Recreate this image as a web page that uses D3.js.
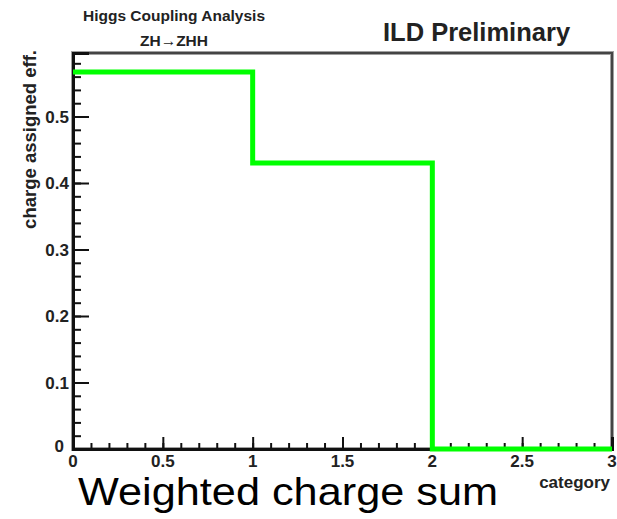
<!DOCTYPE html>
<html lang="en">
<head>
<meta charset="utf-8">
<title>Weighted charge sum</title>
<script src="https://cdnjs.cloudflare.com/ajax/libs/d3/7.8.5/d3.min.js"></script>
<style>
  body { margin: 0; background: #fff; }
  .root { font-family: "Liberation Sans", Arial, sans-serif; font-weight: bold; fill: #222; }
</style>
</head>
<body>
<svg id="plot" width="617" height="519"></svg>
<script>
// bin edges and efficiency per category
var binEdges = [0, 1, 2, 3];
var binValues = [0.567, 0.430, 0];
var xMajorTicks = [0, 0.5, 1, 1.5, 2, 2.5, 3];
var yMajorTicks = [0, 0.1, 0.2, 0.3, 0.4, 0.5];

(function() {
var frameL = 73, frameR = 612, frameT = 53, frameB = 449;

var svg = d3.select("#plot");

var x = d3.scaleLinear().domain([0, 3]).range([frameL, frameR]);
var y = d3.scaleLinear().domain([0, 0.5955]).range([frameB, frameT]);

// frame
svg.append("rect")
  .attr("x", frameL).attr("y", frameT)
  .attr("width", frameR - frameL).attr("height", frameB - frameT)
  .attr("fill", "none")
  .attr("stroke", "#a0a0a0")
  .attr("stroke-width", 4);
svg.append("rect")
  .attr("x", frameL).attr("y", frameT)
  .attr("width", frameR - frameL).attr("height", frameB - frameT)
  .attr("fill", "none")
  .attr("stroke", "#444")
  .attr("stroke-width", 2);

// histogram as a step line
var pts = binEdges.map(function(e, i) {
  return [e, i < binValues.length ? binValues[i] : binValues[binValues.length - 1]];
});
var step = d3.line()
  .x(function(d) { return x(d[0]); })
  .y(function(d) { return y(d[1]); })
  .curve(d3.curveStepAfter);

// axes: ticks point inward like ROOT
function axisGroup(axis, tr) {
  var g = svg.append("g").attr("transform", tr).call(axis);
  g.selectAll("text").remove();
  return g;
}
axisGroup(d3.axisTop(x).tickValues(d3.range(0, 3.001, 0.1)).tickSize(6), "translate(0," + frameB + ")");
axisGroup(d3.axisTop(x).tickValues(xMajorTicks).tickSize(12), "translate(0," + frameB + ")");
axisGroup(d3.axisRight(y).tickValues(d3.range(0, 0.581, 0.02)).tickSize(8), "translate(" + frameL + ",0)");
axisGroup(d3.axisRight(y).tickValues(yMajorTicks).tickSize(16), "translate(" + frameL + ",0)");

svg.selectAll(".domain").attr("stroke", "#111").attr("stroke-width", 3);
svg.selectAll(".tick line").attr("stroke", "#111").attr("stroke-width", 2);

svg.append("path")
  .datum(pts)
  .attr("d", step)
  .attr("fill", "none")
  .attr("stroke", "#00ff00")
  .attr("stroke-width", 5);

// tick labels
svg.selectAll(".xlab").data(xMajorTicks).enter().append("text")
  .attr("class", "root xlab")
  .attr("x", function(d) { return x(d); })
  .attr("y", frameB + 18)
  .attr("text-anchor", "middle")
  .style("font-size", "17px")
  .text(function(d) { return d3.format("")(d); });

svg.selectAll(".ylab").data(yMajorTicks).enter().append("text")
  .attr("class", "root ylab")
  .attr("x", function(d) { return d === 0 ? frameL - 9 : frameL - 4; })
  .attr("y", function(d) { return y(d) + 6 + (d === 0 ? -3 : 0); })
  .attr("text-anchor", "end")
  .style("font-size", "17px")
  .text(function(d) { return d3.format("")(d); });

// axis titles
svg.append("text")
  .attr("class", "root")
  .attr("transform", "translate(36," + (frameT - 3) + ") rotate(-90)")
  .attr("text-anchor", "end")
  .style("font-size", "18.5px")
  .text("charge assigned eff.");

svg.append("text")
  .attr("class", "root")
  .attr("x", frameR - 2)
  .attr("y", 488)
  .attr("text-anchor", "end")
  .style("font-size", "17px")
  .text("category");

// labels above the frame
svg.append("text")
  .attr("class", "root")
  .attr("x", 174).attr("y", 21)
  .attr("text-anchor", "middle")
  .style("font-size", "15.5px")
  .text("Higgs Coupling Analysis");

svg.append("text")
  .attr("class", "root")
  .attr("x", 174).attr("y", 46)
  .attr("text-anchor", "middle")
  .style("font-size", "15.5px")
  .text("ZH\u2192ZHH");

svg.append("text")
  .attr("class", "root")
  .attr("x", 383).attr("y", 41)
  .style("font-size", "25.5px")
  .text("ILD Preliminary");

// caption under the plot
svg.append("text")
  .attr("x", 78).attr("y", 505)
  .style("font-family", "'Liberation Sans', Arial, sans-serif")
  .style("font-size", "39px")
  .attr("fill", "#000")
  .attr("textLength", 420)
  .attr("lengthAdjust", "spacingAndGlyphs")
  .text("Weighted charge sum");
})();
</script>
</body>
</html>
